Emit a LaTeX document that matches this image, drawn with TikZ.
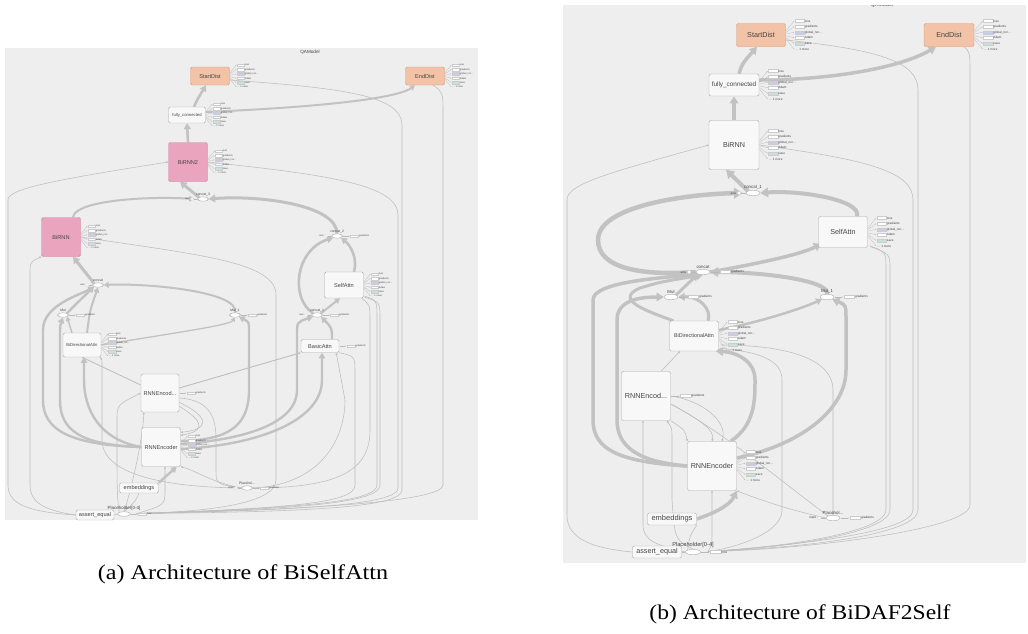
\documentclass[tikz,border=0pt]{standalone}
\usepackage{fontspec}
\setmainfont{Liberation Serif}
\setsansfont{Liberation Sans}
\usetikzlibrary{arrows.meta,shapes.geometric,calc}
\pgfdeclarelayer{bg}
\pgfdeclarelayer{edges}
\pgfsetlayers{bg,edges,main}
\definecolor{bgc}{HTML}{EEEEEE}
\definecolor{nodef}{HTML}{F8F8F8}
\definecolor{nodeb}{HTML}{ABABAB}
\definecolor{peach}{HTML}{F2C3A6}
\definecolor{peachd}{HTML}{D39A7A}
\definecolor{pinkc}{HTML}{EBA4BE}
\definecolor{pinkd}{HTML}{C8849C}
\definecolor{edgec}{HTML}{C2C2C2}
\definecolor{thinc}{HTML}{BDBDBD}
\definecolor{lblue}{HTML}{C8CEEA}
\definecolor{lteal}{HTML}{C6E2DE}
\definecolor{textc}{HTML}{444444}
\tikzset{
  nodeA/.style={draw=nodeb, fill=nodef, rounded corners=1.5pt, line width=0.45pt, inner sep=0pt, font=\sffamily\fontsize{5.6}{6}\selectfont, text=textc},
  nodeB/.style={nodeA, rounded corners=2pt, font=\sffamily\fontsize{7.2}{8}\selectfont},
  ellA/.style={ellipse, draw=nodeb, fill=white, line width=0.4pt, inner sep=0pt, minimum width=11pt, minimum height=4.5pt},
  ellB/.style={ellA, minimum width=14pt, minimum height=5.5pt},
  lblA/.style={font=\sffamily\fontsize{3.4}{3.4}\selectfont, inner sep=0.6pt, text=textc},
  lblB/.style={font=\sffamily\fontsize{4.4}{4.4}\selectfont, inner sep=0.7pt, text=textc},
  tk/.style={draw=edgec, line width=#1, -{Triangle[length=2pt 1.5, width=2pt 1.9]}},
  tk/.default=2.5pt,
  tn/.style={draw=thinc, line width=0.55pt},
  tna/.style={tn, -{Triangle[length=2pt, width=2pt]}},
  listln/.style={draw=gray!55, line width=0.25pt, -{Triangle[length=0.9pt, width=0.9pt]}},
  listbox/.style={draw=gray!40, line width=0.25pt},
  listtxt/.style={anchor=west, inner sep=0pt, text=textc},
  peachn/.style={fill=peach, draw=peachd},
  pinkn/.style={fill=pinkc, draw=pinkd},
}
\newcommand\gnlab{global\_nor\ldots}
\newcommand\morelab{\ldots\ 1 more}
\newcommand\oplist[2]{%
  \foreach \lab/\bc [count=\i] in {loss/white,gradients/white,\gnlab/lblue,Adam/white,save/lteal}{%
    \pgfmathsetmacro\yy{(\i-3.5)*#2}%
    \pgfmathsetmacro\fs{0.55*#2}%
    \draw[listln] ($(#1.east)+(0.3,0.3*\yy)$) -- ($(#1.east)+(1.5*#2,\yy)$);
    \draw[listbox, fill=\bc] ($(#1.east)+(1.6*#2,\yy-0.28*#2)$) rectangle ($(#1.east)+(3.3*#2,\yy+0.28*#2)$);
    \node[listtxt, font={\sffamily\fontsize{\fs}{\fs}\selectfont}] at ($(#1.east)+(3.4*#2,\yy)$) {\lab};
  }%
  \pgfmathsetmacro\yy{2.5*#2}%
  \pgfmathsetmacro\fs{0.55*#2}%
  \draw[listln] ($(#1.east)+(0.3,0.3*\yy)$) -- ($(#1.east)+(1.5*#2,\yy)$);
  \node[listtxt, font={\sffamily\fontsize{\fs}{\fs}\selectfont}] at ($(#1.east)+(1.7*#2,\yy)$) {\morelab};
}
\newcommand\gradlab[3]{%
  \pgfmathsetmacro\fs{0.55*#2}%
  \draw[listln] ($(#1.east)+(0.3,0)$) -- ($(#1.east)+(1.6*#2,0)$);
  \draw[listbox, fill=white] ($(#1.east)+(1.7*#2,-0.28*#2)$) rectangle ($(#1.east)+(3.6*#2,0.28*#2)$);
  \node[listtxt, font={\sffamily\fontsize{\fs}{\fs}\selectfont}] at ($(#1.east)+(3.7*#2,0)$) {#3};
}
\newcommand\leftlab[3]{%
  \pgfmathsetmacro\fs{0.55*#2}%
  \draw[draw=gray!55, line width=0.25pt] ($(#1.west)+(-0.85*#2,0)$) -- (#1.west);
  \draw[listbox, fill=white] ($(#1.west)+(-1.2*#2,0)$) circle[radius=0.35*#2];
  \node[listtxt, anchor=east, font={\sffamily\fontsize{\fs}{\fs}\selectfont}] at ($(#1.west)+(-1.7*#2,0)$) {#3};
}
\begin{document}
\begin{tikzpicture}[x=1pt,y=-1pt]
\useasboundingbox (0,0) rectangle (1028,633);
\begin{pgfonlayer}{bg}
\fill[white] (0,0) rectangle (1028,633);
\fill[bgc] (5,48) rectangle (478,520);
\fill[bgc] (563,5) rectangle (1026,563);
\end{pgfonlayer}

% ================= panel (a) nodes =================
\node[font=\sffamily\fontsize{4.6}{5}\selectfont, text=textc] (titA) at (310,52) {QAModel};
\node[nodeA, peachn, minimum width=39pt, minimum height=18pt] (sA) at (210,76) {StartDist};
\node[nodeA, peachn, minimum width=39pt, minimum height=18pt] (eA) at (425,76) {EndDist};
\node[nodeA, minimum width=37pt, minimum height=16pt, font=\sffamily\fontsize{4.2}{5}\selectfont] (fcA) at (187,115) {fully\_connected};
\node[nodeA, pinkn, minimum width=39pt, minimum height=39pt] (b2A) at (188,162) {BiRNN2};
\node[ellA, label={[lblA]above:concat\_3}] (c3A) at (203,199) {};
\node[nodeA, pinkn, minimum width=39pt, minimum height=39pt] (bA) at (61,237) {BiRNN};
\node[ellA, label={[lblA]above:concat\_2}] (c2A) at (337,236) {};
\node[nodeA, minimum width=39pt, minimum height=26pt] (saA) at (344,285) {SelfAttn};
\node[ellA, label={[lblA]above:concat}] (cA) at (98,285) {};
\node[ellA, label={[lblA]above:Mul}] (mA) at (63,315) {};
\node[ellA, label={[lblA]above:Mul\_1}] (m1A) at (235,315) {};
\node[ellA, label={[lblA]above:concat\_1}] (c1A) at (317,315) {};
\node[nodeA, minimum width=38pt, minimum height=24pt, font=\sffamily\fontsize{4.2}{5}\selectfont] (bdaA) at (82,345) {BiDirectionalAttn};
\node[nodeA, minimum width=38pt, minimum height=13pt] (baA) at (320,346) {BasicAttn};
\node[nodeA, minimum width=38pt, minimum height=38pt] (reA) at (160,393) {RNNEncod...};
\node[nodeA, minimum width=39pt, minimum height=39pt] (rnA) at (161,447) {RNNEncoder};
\node[nodeA, minimum width=39pt, minimum height=10pt] (emA) at (139,488) {embeddings};
\node[ellA, label={[lblA]above:Placehol...}] (phA) at (247,488) {};
\node[nodeA, minimum width=38pt, minimum height=10pt] (aeA) at (95,515) {assert\_equal};
\node[ellA, minimum width=13pt, label={[lblA, font=\sffamily\fontsize{4.5}{4.5}\selectfont]above:Placeholder[0-4]}] (p04A) at (124,514) {};
\coordinate (pA) at (137,513.5);

\oplist{sA}{4.4}
\oplist{eA}{4.4}
\oplist{fcA}{4.4}
\oplist{b2A}{4.4}
\oplist{bA}{4.4}
\oplist{saA}{4.4}
\oplist{bdaA}{4.4}
\oplist{rnA}{4.4}
\gradlab{c2A}{4.4}{gradients}
\gradlab{mA}{4.4}{gradients}
\gradlab{m1A}{4.4}{gradients}
\gradlab{c1A}{4.4}{gradients}
\gradlab{baA}{4.4}{gradients}
\gradlab{reA}{4.4}{gradients}
\gradlab{phA}{4.4}{gradients}
\gradlab{p04A}{4.4}{loss}
\leftlab{c3A}{4.4}{axis}
\leftlab{c2A}{4.4}{axis}
\leftlab{cA}{4.4}{axis}
\leftlab{c1A}{4.4}{axis}
\leftlab{phA}{4.4}{input}

% ================= panel (b) nodes =================
\begin{scope}
\clip (563,5) rectangle (1026,563);
\node[font=\sffamily\fontsize{5.4}{6}\selectfont, text=textc] (titB) at (882,4.6) {QAModel};
\end{scope}
\node[nodeB, peachn, minimum width=49pt, minimum height=23pt] (sB) at (761,35) {StartDist};
\node[nodeB, peachn, minimum width=50pt, minimum height=23pt] (eB) at (949,35) {EndDist};
\node[nodeB, minimum width=50pt, minimum height=22pt, font=\sffamily\fontsize{6.4}{7}\selectfont] (fcB) at (734,85) {fully\_connected};
\node[nodeB, minimum width=50pt, minimum height=49pt] (brB) at (734,145) {BiRNN};
\node[ellB, label={[lblB]above:concat\_1}] (c1B) at (753,193) {};
\node[nodeB, minimum width=49pt, minimum height=31pt] (saB) at (843,232) {SelfAttn};
\node[ellB, label={[lblB]above:concat}] (cB) at (703,272) {};
\node[ellB, label={[lblB]above:Mul}] (mB) at (671,297) {};
\node[ellB, label={[lblB]above:Mul\_1}] (m1B) at (827,297) {};
\node[nodeB, minimum width=49pt, minimum height=30pt, font=\sffamily\fontsize{5.4}{6}\selectfont] (bdaB) at (694,336) {BiDirectionalAttn};
\node[nodeB, minimum width=49pt, minimum height=49pt] (reB) at (646,396) {RNNEncod...};
\node[nodeB, minimum width=49pt, minimum height=49pt] (rnB) at (712,466) {RNNEncoder};
\node[nodeB, minimum width=49pt, minimum height=12pt, font=\sffamily\fontsize{7.5}{8}\selectfont] (emB) at (672,519) {embeddings};
\node[ellB, label={[lblB]above:Placehol...}] (phB) at (833,518) {};
\node[nodeB, minimum width=49pt, minimum height=12pt] (aeB) at (657,552) {assert\_equal};
\node[ellB, minimum width=15pt, label={[lblB, font=\sffamily\fontsize{5.7}{5.7}\selectfont]above:Placeholder[0-4]}] (p04B) at (693,552) {};
\coordinate (pB) at (708,551.5);

\oplist{sB}{5.6}
\oplist{eB}{5.6}
\oplist{fcB}{5.6}
\oplist{brB}{5.6}
\oplist{saB}{5.6}
\oplist{bdaB}{5.6}
\oplist{rnB}{5.6}
\gradlab{cB}{5.6}{gradients}
\gradlab{mB}{5.6}{gradients}
\gradlab{m1B}{5.6}{gradients}
\gradlab{reB}{5.6}{gradients}
\gradlab{phB}{5.6}{gradients}
\gradlab{p04B}{5.6}{loss}
\leftlab{c1B}{5.6}{axis}
\leftlab{cB}{5.6}{axis}
\leftlab{phB}{5.6}{input}

% ================= captions =================
\node[font=\fontsize{21}{24}\selectfont, inner sep=0pt] (capA) at (243,574) {\scalebox{1.15}[1]{(a) Architecture of BiSelfAttn}};
\node[font=\fontsize{21}{24}\selectfont, inner sep=0pt] (capB) at (800,614) {\scalebox{1.12}[1]{(b) Architecture of BiDAF2Self}};

% ================= edges =================
\begin{pgfonlayer}{edges}
% ---- panel (a) thin ----
\draw[tna] (aeA.west) .. controls (30,512) and (8,505) .. (8,485) -- (8,200) .. controls (8,190) and (40,182) .. (b2A.west);
\draw[tna] (aeA.west) .. controls (40,510) and (30,500) .. (30,485) -- (30,275) .. controls (30,262) .. (bA.south west);
\draw[tn] (bA.east) .. controls (200,255) and (276,262) .. (276,295) -- (276,480) .. controls (276,505) and (200,512) .. (pA);
\draw[tn] (b2A.east) .. controls (330,175) and (398,185) .. (398,215) -- (398,488) .. controls (398,505) and (300,510) .. (pA);
\draw[tn] ([yshift=-4pt]sA.east) .. controls (340,88) and (402,95) .. (402,125) -- (402,490) .. controls (402,508) and (300,512) .. (pA);
\draw[tn] ([xshift=8pt]eA.south) .. controls (443,92) .. (443,115) -- (443,485) .. controls (443,502) and (300,510) .. (pA);
\draw[tn] ($(saA.south east)+(1,-2)$) .. controls (377,300) .. (377,320) -- (377,485) .. controls (377,502) and (300,508) .. (pA);
\draw[tn] ($(saA.south east)+(1,-1)$) .. controls (380,302) .. (380,320) -- (380,485) .. controls (380,503) and (300,509) .. (pA);
\draw[tn] (baA.south east) .. controls (355,356) .. (355,375) -- (355,485) .. controls (355,502) and (300,508) .. (pA);
\draw[tna] (phA.west) .. controls (150,487) and (102,470) .. (102,440) -- (102,365) .. controls (102,360) .. ($(bdaA.south east)+(-1,0)$);
\draw[tna] (p04A.north) .. controls (130,495) and (143,440) .. ($(reA.south west)+(3,0)$);
\draw[tna] (p04A.north west) .. controls (117,500) and (117,480) .. (117,450) -- (117,420) .. controls (117,405) .. (reA.west);
\draw[tn] ($(reA.east)+(0,5)$) .. controls (212,400) and (216,420) .. (216,440) -- (216,470) .. controls (216,484) .. (phA.west);
\draw[tna] (phA.west) .. controls (210,482) and (195,470) .. (rnA.south east);
\draw[tna] (phA.east) .. controls (320,485) and (345,440) .. (345,400) -- ($(baA.south east)+(-3,0)$);
\draw[tn] (phA.east) .. controls (340,488) and (370,470) .. (370,430) -- (370,320) .. controls (370,305) .. ($(saA.south east)+(-2,0)$);
\draw[tn] (p04A.west) -- (aeA.east);
\draw[tn] (emA.south) .. controls (135,502) .. (p04A.north);
\draw[tna] (pA) .. controls (165,505) .. (165,490) -- ([xshift=4pt]rnA.south);
\draw[tna, line width=0.8pt] ($(reA.west)+(0,-8)$) -- (bdaA.south);
\draw[tna, line width=0.9pt] ($(reA.east)+(0,-5)$) -- (baA.south west);
\draw[tna] ($(reA.south east)+(0,-10)$) .. controls (215,420) and (205,430) .. ($(rnA.north east)+(0,5)$);
\draw[tna] ($(reA.south east)+(0,-6)$) .. controls (210,425) and (200,432) .. ($(rnA.north east)+(0,8)$);
% ---- panel (a) thick ----
\draw[tk=2.6pt] ([xshift=7pt]fcA.north) .. controls (197,100) .. ([xshift=-4pt]sA.south);
\draw[tk=2pt] ([yshift=3pt]fcA.east) .. controls (300,108) and (395,100) .. ([xshift=-10pt]eA.south);
\draw[tk=2.6pt] (b2A.north) -- (fcA.south);
\draw[tk=3pt] (c3A.north west) -- ([xshift=-8pt]b2A.south);
\draw[tk=2pt] ([xshift=12pt]bA.north) .. controls (75,200) and (150,196) .. ([xshift=-3pt]c3A.west);
\draw[tk=3pt] (c2A.north) .. controls (337,205) and (260,195) .. (c3A.east);
\draw[tk=3pt] (cA.north west) -- ([xshift=12pt]bA.south);
\draw[tk=2pt] (m1A.north) .. controls (240,292) and (150,283) .. (cA.east);
\draw[tk=2.4pt] (mA.north east) .. controls (75,305) .. (cA.south west);
\draw[tk=2.4pt] (rnA.west) .. controls (70,445) and (43,430) .. (43,400) -- (43,330) .. controls (43,305) and (80,295) .. (cA.south west);
\draw[tk=2.4pt] (rnA.west) .. controls (80,445) and (60,430) .. (60,400) -- (60,340) .. controls (60,325) .. (mA.south);
\draw[tk=2.4pt] (rnA.west) .. controls (100,440) and (84,410) .. (84,380) -- ([xshift=2pt]bdaA.south);
\draw[tk=1.5pt] ([xshift=-10pt]bdaA.north) -- (mA.south east);
\draw[tk=2pt] ([xshift=5pt]bdaA.north) .. controls (90,310) .. (cA.south);
\draw[tk=2.6pt] (c1A.north west) .. controls (290,298) and (295,250) .. (c2A.south west);
\draw[tk=2.6pt] ([xshift=10pt]saA.north) .. controls (358,258) and (350,245) .. (c2A.south east);
\draw[tk=2pt] (c1A.north east) -- ([xshift=-4pt]saA.south);
\draw[tk=2.4pt] ([yshift=3pt]rnA.east) .. controls (240,440) and (297,425) .. (297,390) -- (297,335) .. controls (297,322) .. (c1A.south west);
\draw[tk=2.4pt] ([xshift=12pt]baA.north) .. controls (332,328) .. (c1A.south east);
\draw[tk=2.4pt] ([yshift=-2pt]rnA.east) .. controls (260,445) and (322,420) .. (322,380) -- ([xshift=2pt]baA.south);
\draw[tk=1.3pt] (bdaA.east) .. controls (180,332) and (230,325) .. (m1A.south);
\draw[tk=2.4pt] ([yshift=6pt]rnA.east) .. controls (230,440) and (249,425) .. (249,390) -- (249,330) .. controls (249,322) .. (m1A.south east);
\draw[tk=2.4pt] (emA.north east) -- ([xshift=-4pt]rnA.south east);

% ---- panel (b) thin ----
\draw[tna] (aeB.west) .. controls (590,548) and (567,538) .. (567,515) -- (567,200) .. controls (567,185) and (600,175) .. (brB.west);
\draw[tn] (brB.east) .. controls (870,160) and (913,172) .. (913,200) -- (913,510) .. controls (913,532) and (800,545) .. (pB);
\draw[tn] ([yshift=-5pt]sB.east) .. controls (880,50) and (918,62) .. (918,90) -- (918,510) .. controls (918,535) and (800,548) .. (pB);
\draw[tn] ([xshift=15pt]eB.south) .. controls (970,52) .. (970,75) -- (970,505) .. controls (970,530) and (800,550) .. (pB);
\draw[tn] ($(saB.south east)+(2,-2)$) .. controls (886,252) .. (886,270) -- (886,510) .. controls (886,530) and (800,546) .. (pB);
\draw[tn] ($(saB.south east)+(3,-1)$) .. controls (890,254) .. (890,270) -- (890,510) .. controls (890,531) and (800,547) .. (pB);
\draw[tn] ($(bdaB.south east)+(1,-3)$) .. controls (760,352) and (782,360) .. (782,380) -- (782,510) .. controls (782,532) and (740,547) .. (pB);
\draw[tna] ($(bdaB.east)+(2,9)$) .. controls (790,345) and (833,360) .. (833,390) -- (phB.north);
\draw[tna] (phB.west) .. controls (790,510) and (760,500) .. (rnB.south east);
\draw[tn] ($(reB.east)+(0,8)$) .. controls (720,430) and (780,480) .. (phB.north west);
\draw[tna] (p04B.west) .. controls (655,545) and (643,540) .. (643,525) -- ([xshift=-3pt]reB.south);
\draw[tna] (p04B.north) .. controls (675,540) .. (672,500) -- (672,440) .. controls (672,428) .. ([xshift=-4pt]reB.south east);
\draw[tna] (pB) .. controls (712,545) .. (712,530) -- (rnB.south);
\draw[tn] (p04B.west) -- (aeB.east);
\draw[tn] (emB.south east) .. controls (690,535) .. (p04B.north west);
\draw[tna] ([xshift=15pt]reB.north) -- ([xshift=-14pt]bdaB.south);
\draw[tna] (reB.east) .. controls (700,400) and (728,420) .. ([xshift=10pt]rnB.north);
\draw[tna] ([yshift=-8pt]reB.east) .. controls (700,420) and (715,430) .. (rnB.north);
\draw[tna] (reB.south east) .. controls (685,430) .. (rnB.north west);
% ---- panel (b) thick ----
\draw[tk=3.5pt] ([xshift=5pt]fcB.north) .. controls (742,64) .. ([xshift=-4pt]sB.south);
\draw[tk=3.5pt] ([yshift=5pt]fcB.east) .. controls (830,80) and (900,68) .. ([xshift=-13pt]eB.south);
\draw[tk=3.5pt] (brB.north) -- (fcB.south);
\draw[tk=4pt] (c1B.north west) -- ([xshift=-8pt]brB.south);
\draw[tk=4.5pt] (cB.west) .. controls (640,276) and (598,268) .. (598,240) .. controls (598,205) and (690,194) .. ([xshift=-3pt]c1B.west);
\draw[tk=4pt] ([xshift=14pt]saB.north) .. controls (862,200) and (800,190) .. (c1B.east);
\draw[tk=3.5pt] (cB.east) .. controls (750,265) and (800,255) .. ([xshift=3pt,yshift=4pt]saB.south west);
\draw[tk=3pt] (mB.north east) -- (cB.south west);
\draw[tk=3.5pt] (rnB.west) .. controls (620,462) and (593,450) .. (593,420) -- (593,300) .. controls (593,282) and (660,278) .. (cB.south west);
\draw[tk=3pt] ([xshift=4pt]bdaB.north west) .. controls (650,312) and (612,300) .. (640,288) .. controls (660,282) .. (cB.south);
\draw[tk=3pt] ([xshift=14pt]bdaB.north) .. controls (712,310) and (700,296) .. (mB.east);
\draw[tk=3.5pt] (rnB.west) .. controls (640,462) and (617,448) .. (617,420) -- (617,320) .. controls (617,300) and (640,297) .. (mB.west);
\draw[tk=2.5pt] ([yshift=6pt]bdaB.east) .. controls (770,320) and (810,305) .. (m1B.south west);
\draw[tk=3.5pt] ([yshift=8pt]rnB.east) .. controls (800,445) and (846,410) .. (846,370) -- (846,320) .. controls (846,305) .. (m1B.south east);
\draw[tk=4pt] (m1B.north) .. controls (830,280) and (760,272) .. (cB.east);
\draw[tk=3.5pt] ([xshift=-6pt]rnB.north east) .. controls (755,425) and (755,400) .. (755,380) .. controls (755,360) and (735,352) .. ([xshift=-3pt]bdaB.south east);
\draw[tk=3.5pt] (emB.east) .. controls (715,513) and (730,505) .. (rnB.south east);
\end{pgfonlayer}
\end{tikzpicture}
\end{document}
